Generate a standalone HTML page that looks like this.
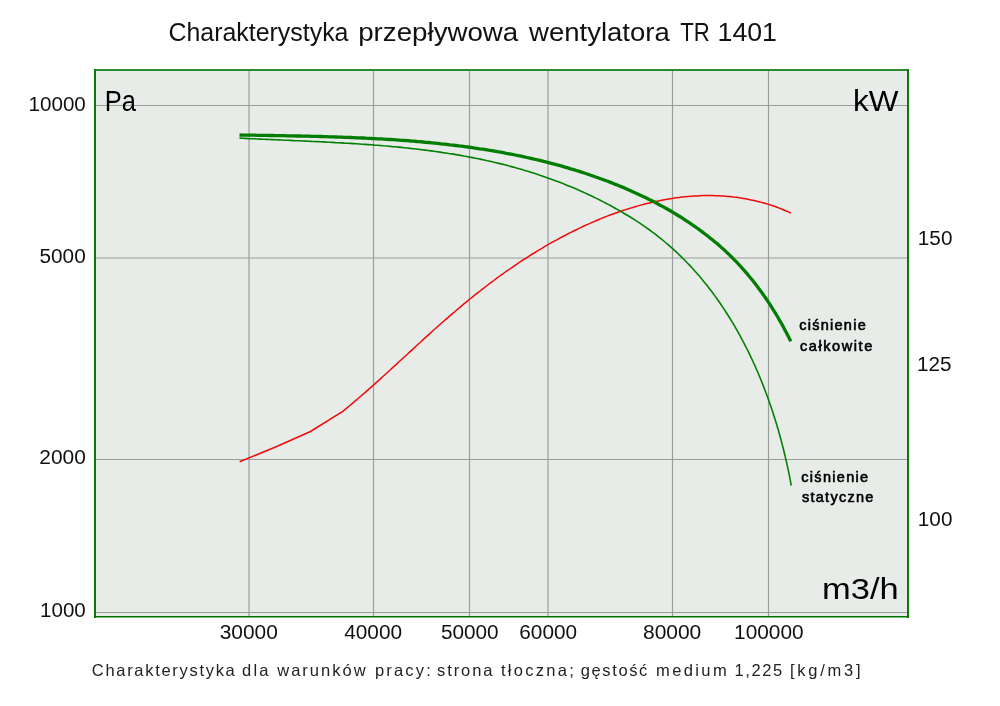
<!DOCTYPE html>
<html><head><meta charset="utf-8"><style>
html,body{margin:0;padding:0;background:#fff;}
svg{display:block;}
text{font-family:"Liberation Sans",sans-serif;}
svg{will-change:transform;}

</style></head><body>
<svg width="1000" height="706" viewBox="0 0 1000 706">
<rect x="0" y="0" width="1000" height="706" fill="#ffffff"/>
<rect x="95" y="70" width="813" height="547" fill="#e7ece8"/>
<g stroke="#9a9e9a" stroke-width="1.2" fill="none">
<line x1="96" y1="105.5" x2="907" y2="105.5"/>
<line x1="96" y1="258" x2="907" y2="258"/>
<line x1="96" y1="459.5" x2="907" y2="459.5"/>
<line x1="96" y1="612.5" x2="907" y2="612.5"/>
<line x1="249" y1="71" x2="249" y2="616"/>
<line x1="373.5" y1="71" x2="373.5" y2="616"/>
<line x1="469.5" y1="71" x2="469.5" y2="616"/>
<line x1="548" y1="71" x2="548" y2="616"/>
<line x1="672.5" y1="71" x2="672.5" y2="616"/>
<line x1="768.5" y1="71" x2="768.5" y2="616"/>
</g>
<line x1="94" y1="70" x2="909" y2="70" stroke="#2a8a32" stroke-width="2"/>
<line x1="95" y1="69" x2="95" y2="618" stroke="#0b780b" stroke-width="2"/>
<line x1="908" y1="69" x2="908" y2="618" stroke="#0b780b" stroke-width="2"/>
<line x1="94" y1="616.7" x2="909" y2="616.7" stroke="#007300" stroke-width="1.5"/>
<path d="M239.7,461.7 L275.6,447.0 L310.5,431.5 L342.0,412.0 L344.3,410.1 L346.7,408.2 L349.0,406.3 L351.3,404.3 L353.6,402.4 L355.9,400.4 L358.2,398.5 L360.4,396.5 L362.7,394.5 L365.0,392.6 L367.2,390.6 L369.5,388.6 L371.7,386.6 L374.0,384.6 L376.2,382.6 L378.5,380.6 L380.7,378.6 L382.9,376.5 L385.2,374.5 L387.4,372.5 L389.6,370.5 L391.8,368.4 L394.1,366.4 L396.3,364.4 L398.5,362.3 L400.7,360.3 L402.9,358.2 L405.1,356.2 L407.4,354.2 L409.6,352.1 L411.8,350.1 L414.0,348.1 L416.2,346.0 L418.4,344.0 L420.7,342.0 L422.9,339.9 L425.1,337.9 L427.3,335.9 L429.6,333.9 L431.8,331.8 L434.0,329.8 L436.3,327.8 L438.5,325.8 L440.8,323.8 L443.0,321.8 L445.3,319.8 L447.6,317.9 L449.8,315.9 L452.1,313.9 L454.4,312.0 L456.7,310.0 L459.0,308.1 L461.3,306.1 L463.6,304.2 L465.9,302.3 L468.2,300.4 L470.6,298.5 L472.9,296.6 L475.3,294.7 L477.6,292.8 L480.0,291.0 L482.4,289.1 L484.8,287.3 L487.1,285.5 L489.5,283.6 L491.9,281.8 L494.4,280.0 L496.8,278.2 L499.2,276.5 L501.7,274.7 L504.1,273.0 L506.6,271.2 L509.0,269.5 L511.5,267.8 L514.0,266.1 L516.5,264.4 L519.0,262.7 L521.5,261.0 L524.0,259.4 L526.5,257.8 L529.1,256.1 L531.6,254.5 L534.2,253.0 L536.7,251.4 L539.3,249.8 L541.9,248.3 L544.5,246.7 L547.1,245.2 L549.7,243.7 L552.3,242.2 L554.9,240.8 L557.6,239.3 L560.2,237.9 L562.9,236.5 L565.5,235.1 L568.2,233.7 L570.9,232.4 L573.6,231.0 L576.3,229.7 L579.0,228.4 L581.7,227.1 L584.5,225.8 L587.2,224.6 L590.0,223.4 L592.7,222.1 L595.5,221.0 L598.3,219.8 L601.0,218.6 L603.8,217.5 L606.6,216.4 L609.4,215.3 L612.3,214.3 L615.1,213.3 L617.9,212.2 L620.8,211.3 L623.6,210.3 L626.5,209.4 L629.3,208.5 L632.2,207.6 L635.1,206.7 L638.0,205.9 L640.9,205.1 L643.8,204.3 L646.7,203.6 L649.6,202.9 L652.6,202.2 L655.5,201.5 L658.5,200.9 L661.4,200.3 L664.4,199.7 L667.3,199.2 L670.3,198.7 L673.3,198.3 L676.3,197.8 L679.2,197.4 L682.2,197.1 L685.2,196.8 L688.2,196.5 L691.2,196.2 L694.2,196.0 L697.2,195.9 L700.2,195.7 L703.2,195.6 L706.2,195.6 L709.3,195.6 L712.3,195.6 L715.3,195.7 L718.3,195.8 L721.3,195.9 L724.3,196.1 L727.3,196.4 L730.3,196.6 L733.3,197.0 L736.3,197.3 L739.2,197.8 L742.2,198.2 L745.2,198.7 L748.1,199.3 L751.1,199.9 L754.0,200.5 L757.0,201.2 L759.9,201.9 L762.8,202.7 L765.7,203.5 L768.6,204.4 L771.4,205.3 L774.3,206.3 L777.1,207.3 L779.9,208.4 L782.7,209.5 L785.5,210.7 L788.3,211.9 L791.0,213.1" fill="none" stroke="#f20a0a" stroke-width="1.5"/>
<path d="M239.5,138.1 L242.5,138.3 L245.5,138.4 L248.5,138.6 L251.5,138.7 L254.5,138.8 L257.5,139.0 L260.5,139.1 L263.5,139.3 L266.5,139.4 L269.5,139.5 L272.5,139.6 L275.5,139.8 L278.5,139.9 L281.5,140.0 L284.5,140.2 L287.5,140.3 L290.5,140.4 L293.4,140.6 L296.4,140.7 L299.4,140.8 L302.4,141.0 L305.4,141.1 L308.4,141.2 L311.4,141.4 L314.4,141.5 L317.4,141.6 L320.4,141.8 L323.4,141.9 L326.4,142.1 L329.4,142.2 L332.4,142.4 L335.4,142.6 L338.4,142.7 L341.4,142.9 L344.4,143.1 L347.4,143.2 L350.4,143.4 L353.4,143.6 L356.4,143.8 L359.4,144.0 L362.4,144.2 L365.4,144.4 L368.3,144.6 L371.3,144.8 L374.3,145.1 L377.3,145.3 L380.3,145.5 L383.3,145.8 L386.3,146.0 L389.3,146.3 L392.3,146.6 L395.3,146.8 L398.2,147.1 L401.2,147.4 L404.2,147.7 L407.2,148.0 L410.2,148.4 L413.2,148.7 L416.1,149.0 L419.1,149.4 L422.1,149.7 L425.1,150.1 L428.1,150.5 L431.0,150.9 L434.0,151.3 L437.0,151.7 L439.9,152.1 L442.9,152.6 L445.9,153.0 L448.8,153.5 L451.8,153.9 L454.8,154.4 L457.7,154.9 L460.7,155.4 L463.6,156.0 L466.6,156.5 L469.5,157.1 L472.5,157.6 L475.4,158.2 L478.4,158.8 L481.3,159.4 L484.2,160.0 L487.2,160.7 L490.1,161.3 L493.0,162.0 L495.9,162.7 L498.9,163.4 L501.8,164.1 L504.7,164.8 L507.6,165.6 L510.5,166.4 L513.4,167.1 L516.3,167.9 L519.2,168.8 L522.0,169.6 L524.9,170.5 L527.8,171.3 L530.7,172.2 L533.5,173.1 L536.4,174.0 L539.2,175.0 L542.1,175.9 L544.9,176.9 L547.7,177.9 L550.6,178.9 L553.4,179.9 L556.2,181.0 L559.0,182.0 L561.8,183.1 L564.6,184.2 L567.4,185.4 L570.1,186.5 L572.9,187.6 L575.7,188.8 L578.4,190.0 L581.2,191.2 L583.9,192.4 L586.6,193.7 L589.4,195.0 L592.1,196.2 L594.8,197.6 L597.5,198.9 L600.2,200.2 L602.8,201.6 L605.5,203.0 L608.1,204.4 L610.8,205.8 L613.4,207.2 L616.0,208.7 L618.7,210.1 L621.3,211.6 L623.8,213.2 L626.4,214.7 L629.0,216.3 L631.5,217.8 L634.1,219.4 L636.6,221.1 L639.1,222.7 L641.6,224.4 L644.1,226.1 L646.5,227.8 L649.0,229.5 L651.4,231.3 L653.8,233.1 L656.2,234.9 L658.5,236.8 L660.9,238.6 L663.2,240.5 L665.5,242.5 L667.8,244.4 L670.1,246.4 L672.3,248.4 L674.5,250.4 L676.7,252.4 L678.9,254.5 L681.1,256.6 L683.2,258.7 L685.3,260.8 L687.4,263.0 L689.5,265.1 L691.5,267.3 L693.5,269.6 L695.5,271.8 L697.5,274.0 L699.5,276.3 L701.4,278.6 L703.3,280.9 L705.2,283.2 L707.1,285.6 L708.9,288.0 L710.8,290.3 L712.6,292.7 L714.3,295.1 L716.1,297.6 L717.8,300.0 L719.6,302.5 L721.3,305.0 L722.9,307.4 L724.6,309.9 L726.2,312.5 L727.8,315.0 L729.4,317.5 L731.0,320.1 L732.6,322.7 L734.1,325.2 L735.6,327.8 L737.1,330.4 L738.6,333.1 L740.0,335.7 L741.4,338.3 L742.8,341.0 L744.2,343.6 L745.6,346.3 L747.0,349.0 L748.3,351.7 L749.6,354.4 L750.9,357.1 L752.2,359.8 L753.4,362.5 L754.7,365.2 L755.9,368.0 L757.1,370.7 L758.3,373.5 L759.4,376.2 L760.6,379.0 L761.7,381.8 L762.8,384.6 L763.9,387.4 L765.0,390.2 L766.0,393.0 L767.1,395.8 L768.1,398.6 L769.1,401.5 L770.1,404.3 L771.1,407.1 L772.0,410.0 L773.0,412.8 L773.9,415.7 L774.8,418.5 L775.7,421.4 L776.6,424.3 L777.4,427.1 L778.3,430.0 L779.1,432.9 L779.9,435.8 L780.7,438.7 L781.5,441.6 L782.2,444.5 L783.0,447.4 L783.7,450.3 L784.4,453.2 L785.1,456.1 L785.8,459.1 L786.5,462.0 L787.1,464.9 L787.8,467.8 L788.4,470.8 L789.0,473.7 L789.6,476.7 L790.2,479.6 L790.7,482.5 L791.3,485.5" fill="none" stroke="#038003" stroke-width="1.6"/>
<path d="M239.5,135.0 L242.5,135.1 L245.5,135.1 L248.5,135.2 L251.5,135.2 L254.5,135.2 L257.6,135.3 L260.6,135.3 L263.6,135.4 L266.6,135.4 L269.6,135.5 L272.6,135.5 L275.6,135.6 L278.6,135.6 L281.6,135.7 L284.6,135.7 L287.6,135.8 L290.7,135.9 L293.7,135.9 L296.7,136.0 L299.7,136.0 L302.7,136.1 L305.7,136.2 L308.7,136.2 L311.7,136.3 L314.7,136.4 L317.7,136.4 L320.7,136.5 L323.7,136.6 L326.8,136.7 L329.8,136.8 L332.8,136.9 L335.8,137.0 L338.8,137.1 L341.8,137.2 L344.8,137.3 L347.8,137.4 L350.8,137.5 L353.8,137.6 L356.8,137.8 L359.8,137.9 L362.8,138.0 L365.8,138.2 L368.9,138.3 L371.9,138.5 L374.9,138.6 L377.9,138.8 L380.9,138.9 L383.9,139.1 L386.9,139.3 L389.9,139.5 L392.9,139.7 L395.9,139.9 L398.9,140.1 L401.9,140.3 L404.9,140.5 L407.9,140.7 L410.9,141.0 L413.9,141.2 L416.9,141.5 L419.9,141.7 L422.9,142.0 L425.9,142.3 L428.9,142.5 L431.9,142.8 L434.9,143.1 L437.9,143.4 L440.9,143.8 L443.8,144.1 L446.8,144.4 L449.8,144.8 L452.8,145.1 L455.8,145.5 L458.8,145.9 L461.8,146.2 L464.8,146.6 L467.7,147.0 L470.7,147.4 L473.7,147.9 L476.7,148.3 L479.7,148.8 L482.6,149.2 L485.6,149.7 L488.6,150.2 L491.5,150.6 L494.5,151.1 L497.5,151.7 L500.4,152.2 L503.4,152.7 L506.4,153.3 L509.3,153.8 L512.3,154.4 L515.2,155.0 L518.2,155.6 L521.1,156.2 L524.1,156.8 L527.0,157.5 L529.9,158.1 L532.9,158.8 L535.8,159.5 L538.7,160.2 L541.6,160.9 L544.6,161.6 L547.5,162.3 L550.4,163.1 L553.3,163.9 L556.2,164.6 L559.1,165.4 L562.0,166.2 L564.9,167.1 L567.8,167.9 L570.7,168.8 L573.6,169.6 L576.4,170.5 L579.3,171.4 L582.2,172.3 L585.0,173.3 L587.9,174.2 L590.7,175.2 L593.6,176.2 L596.4,177.2 L599.3,178.2 L602.1,179.2 L604.9,180.3 L607.7,181.3 L610.5,182.4 L613.3,183.5 L616.1,184.6 L618.9,185.8 L621.7,186.9 L624.5,188.1 L627.2,189.3 L630.0,190.5 L632.7,191.7 L635.5,192.9 L638.2,194.2 L640.9,195.5 L643.7,196.8 L646.4,198.1 L649.1,199.4 L651.8,200.8 L654.4,202.1 L657.1,203.5 L659.7,205.0 L662.4,206.4 L665.0,207.8 L667.6,209.3 L670.3,210.8 L672.9,212.3 L675.4,213.9 L678.0,215.5 L680.6,217.0 L683.1,218.7 L685.6,220.3 L688.1,221.9 L690.6,223.6 L693.1,225.3 L695.6,227.0 L698.0,228.8 L700.5,230.6 L702.9,232.4 L705.3,234.2 L707.7,236.0 L710.0,237.9 L712.4,239.8 L714.7,241.7 L717.0,243.6 L719.3,245.6 L721.5,247.6 L723.8,249.6 L726.0,251.6 L728.2,253.7 L730.3,255.8 L732.5,257.9 L734.6,260.1 L736.7,262.2 L738.7,264.4 L740.8,266.6 L742.8,268.9 L744.8,271.1 L746.8,273.4 L748.7,275.7 L750.6,278.0 L752.5,280.3 L754.4,282.7 L756.2,285.1 L758.0,287.5 L759.8,289.9 L761.6,292.3 L763.3,294.8 L765.1,297.2 L766.8,299.7 L768.4,302.2 L770.1,304.7 L771.7,307.3 L773.3,309.8 L774.9,312.4 L776.5,315.0 L778.0,317.5 L779.5,320.2 L781.0,322.8 L782.5,325.4 L783.9,328.0 L785.3,330.7 L786.7,333.3 L788.1,336.0 L789.5,338.7 L790.8,341.4" fill="none" stroke="#017d01" stroke-width="3.3"/>
<text id="y10000" x="28.49" y="110.50" font-size="20" fill="#111" textLength="57.34" lengthAdjust="spacingAndGlyphs">10000</text>
<text id="y5000" x="39.53" y="262.80" font-size="20" fill="#111" textLength="46.19" lengthAdjust="spacingAndGlyphs">5000</text>
<text id="y2000" x="39.30" y="464.40" font-size="20" fill="#111" textLength="46.45" lengthAdjust="spacingAndGlyphs">2000</text>
<text id="y1000" x="40.09" y="617.40" font-size="20" fill="#111" textLength="45.62" lengthAdjust="spacingAndGlyphs">1000</text>
<text id="x30000" x="219.72" y="638.80" font-size="20" fill="#111" textLength="58.16" lengthAdjust="spacingAndGlyphs">30000</text>
<text id="x40000" x="344.17" y="638.80" font-size="20" fill="#111" textLength="57.91" lengthAdjust="spacingAndGlyphs">40000</text>
<text id="x50000" x="440.96" y="638.80" font-size="20" fill="#111" textLength="57.69" lengthAdjust="spacingAndGlyphs">50000</text>
<text id="x60000" x="519.34" y="638.80" font-size="20" fill="#111" textLength="57.73" lengthAdjust="spacingAndGlyphs">60000</text>
<text id="x80000" x="642.98" y="638.80" font-size="20" fill="#111" textLength="58.33" lengthAdjust="spacingAndGlyphs">80000</text>
<text id="x100000" x="734.12" y="638.80" font-size="20" fill="#111" textLength="69.52" lengthAdjust="spacingAndGlyphs">100000</text>
<text id="r150" x="917.87" y="244.80" font-size="20" fill="#111" textLength="34.55" lengthAdjust="spacingAndGlyphs">150</text>
<text id="r125" x="916.94" y="371.00" font-size="20" fill="#111" textLength="34.53" lengthAdjust="spacingAndGlyphs">125</text>
<text id="r100" x="917.87" y="525.80" font-size="20" fill="#111" textLength="34.55" lengthAdjust="spacingAndGlyphs">100</text>
<text id="Pa" x="104.66" y="111.00" font-size="30" fill="#000" textLength="31.16" lengthAdjust="spacingAndGlyphs">Pa</text>
<text id="kW" x="852.90" y="110.60" font-size="30" fill="#000" textLength="45.49" lengthAdjust="spacingAndGlyphs">kW</text>
<text id="m3h" x="822.07" y="599.00" font-size="30" fill="#000" textLength="76.64" lengthAdjust="spacingAndGlyphs">m3/h</text>
<text id="cis1" x="799.28" y="329.80" font-size="14.5" stroke="#000" stroke-width="0.6" fill="#000" textLength="66.43" lengthAdjust="spacing">ciśnienie</text>
<text id="calk" x="799.89" y="351.00" font-size="14.5" stroke="#000" stroke-width="0.6" fill="#000" textLength="72.36" lengthAdjust="spacing">całkowite</text>
<text id="cis2" x="801.31" y="481.60" font-size="14.5" stroke="#000" stroke-width="0.6" fill="#000" textLength="66.83" lengthAdjust="spacing">ciśnienie</text>
<text id="stat" x="801.94" y="501.90" font-size="14.5" stroke="#000" stroke-width="0.6" fill="#000" textLength="71.49" lengthAdjust="spacing">statyczne</text>
<text id="t0" x="168.50" y="41.00" font-size="26" fill="#111" textLength="179.95" lengthAdjust="spacingAndGlyphs">Charakterystyka</text>
<text id="t1" x="358.23" y="41.00" font-size="26" fill="#111" textLength="160.06" lengthAdjust="spacingAndGlyphs">przepływowa</text>
<text id="t2" x="529.00" y="41.00" font-size="26" fill="#111" textLength="140.77" lengthAdjust="spacingAndGlyphs">wentylatora</text>
<text id="t3" x="680.14" y="41.00" font-size="26" fill="#111" textLength="29.57" lengthAdjust="spacingAndGlyphs">TR</text>
<text id="t4" x="717.56" y="41.00" font-size="26" fill="#111" textLength="59.35" lengthAdjust="spacingAndGlyphs">1401</text>
<text id="c0" x="91.80" y="675.80" font-size="16.5" fill="#222" textLength="142.97" lengthAdjust="spacing">Charakterystyka</text>
<text id="c1" x="242.00" y="675.80" font-size="16.5" fill="#222" textLength="26.53" lengthAdjust="spacing">dla</text>
<text id="c2" x="277.20" y="675.80" font-size="16.5" fill="#222" textLength="88.47" lengthAdjust="spacing">warunków</text>
<text id="c3" x="375.00" y="675.80" font-size="16.5" fill="#222" textLength="55.74" lengthAdjust="spacing">pracy:</text>
<text id="c4" x="437.00" y="675.80" font-size="16.5" fill="#222" textLength="55.46" lengthAdjust="spacing">strona</text>
<text id="c5" x="501.00" y="675.80" font-size="16.5" fill="#222" textLength="72.87" lengthAdjust="spacing">tłoczna;</text>
<text id="c6" x="580.80" y="675.80" font-size="16.5" fill="#222" textLength="66.47" lengthAdjust="spacing">gęstość</text>
<text id="c7" x="656.00" y="675.80" font-size="16.5" fill="#222" textLength="70.69" lengthAdjust="spacing">medium</text>
<text id="c8" x="734.50" y="675.80" font-size="16.5" fill="#222" textLength="47.80" lengthAdjust="spacing">1,225</text>
<text id="c9" x="790.00" y="675.80" font-size="16.5" fill="#222" textLength="70.64" lengthAdjust="spacing">[kg/m3]</text>
</svg>
</body></html>
